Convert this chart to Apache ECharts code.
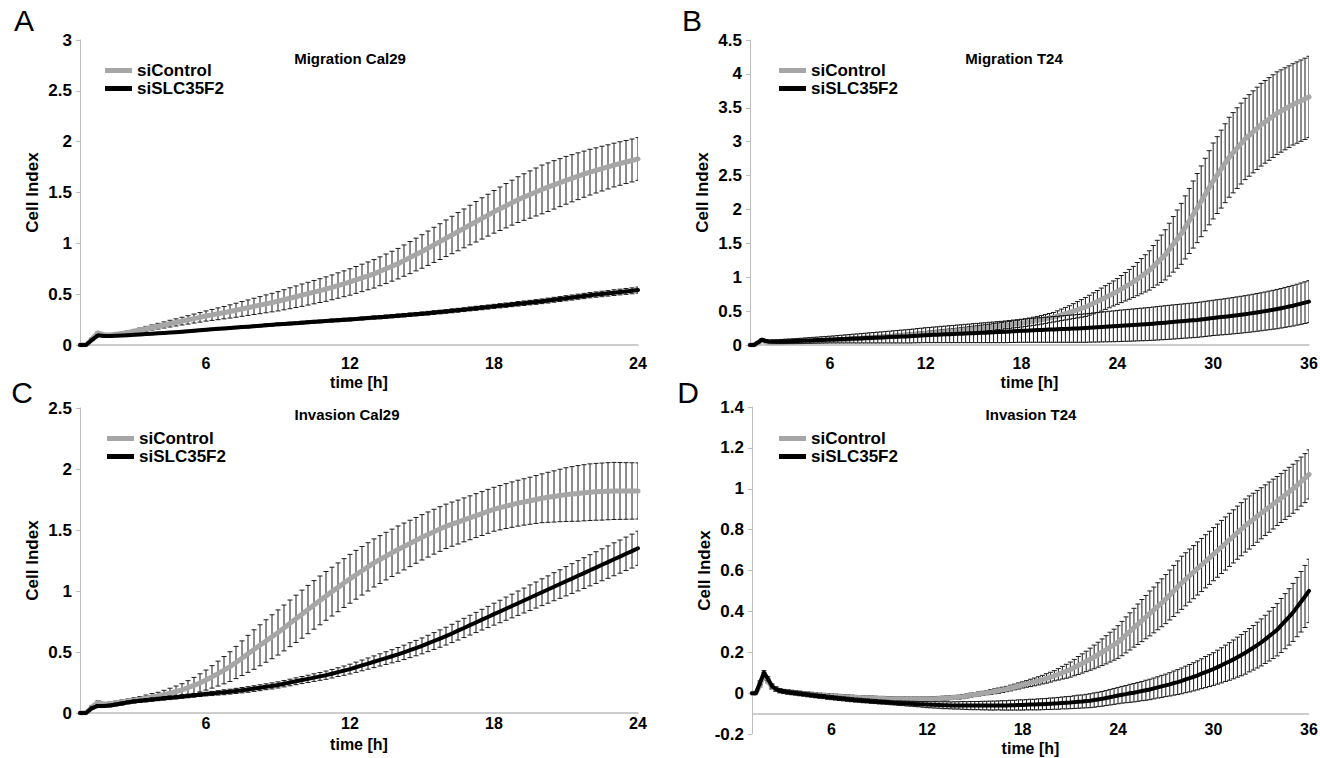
<!DOCTYPE html>
<html><head><meta charset="utf-8">
<script src="https://cdn.jsdelivr.net/npm/echarts@6/dist/echarts.min.js"></script>
<style>html,body{margin:0;padding:0;background:#fff}#c{width:1320px;height:758px}</style>
</head><body><div id="c"></div><script>
// sampling: one reading every 0.25 h
const timeStartAC = 0.75, timeStartBD = 1, timeStep = 0.25;
const xTicksAC = [6, 12, 18, 24];
const xTicksBD = [6, 12, 18, 24, 30, 36];
const seriesNames = ['siControl', 'siSLC35F2'];

// ---- A: Migration Cal29 ----
const A_ctrl = [0,0,0.06,0.12,0.10,
0.098,0.105,0.113,0.124, 0.135,0.147,0.16,0.172, 0.185,0.197,0.21,0.222, 0.235,0.247,0.26,0.272,
0.285,0.296,0.307,0.318, 0.33,0.342,0.355,0.367, 0.38,0.392,0.405,0.417, 0.43,0.445,0.46,0.475,
0.49,0.505,0.52,0.535, 0.55,0.567,0.585,0.602, 0.62,0.64,0.66,0.68, 0.70,0.725,0.75,0.775,
0.80,0.83,0.86,0.89, 0.92,0.952,0.985,1.017, 1.05,1.082,1.115,1.147, 1.18,1.212,1.245,1.277,
1.31,1.34,1.37,1.40, 1.43,1.455,1.48,1.505, 1.53,1.552,1.575,1.597, 1.62,1.64,1.66,1.68,
1.70,1.717,1.735,1.752, 1.77,1.785,1.80,1.815, 1.83];
const A_ctrlSd = [0,0,0.01,0.01,0.01,
0.01,0.012,0.014,0.016, 0.018,0.02,0.023,0.025, 0.028,0.03,0.033,0.035, 0.038,0.041,0.044,0.047,
0.05,0.054,0.058,0.061, 0.065,0.069,0.073,0.076, 0.08,0.084,0.088,0.091, 0.095,0.099,0.103,0.106,
0.11,0.112,0.115,0.117, 0.12,0.122,0.125,0.127, 0.13,0.132,0.135,0.137, 0.14,0.142,0.145,0.147,
0.15,0.154,0.158,0.161, 0.165,0.169,0.173,0.176, 0.18,0.184,0.188,0.191, 0.195,0.199,0.203,0.206,
0.21,0.214,0.218,0.221, 0.225,0.229,0.233,0.236, 0.24,0.239,0.238,0.236, 0.235,0.232,0.23,0.227,
0.225,0.222,0.22,0.217, 0.215,0.214,0.212,0.211, 0.21];
const A_si = [0,0,0.05,0.095,0.088,
0.088,0.091,0.094,0.097, 0.10,0.104,0.108,0.111, 0.115,0.119,0.123,0.126, 0.13,0.135,0.14,0.145,
0.15,0.154,0.159,0.163, 0.168,0.172,0.176,0.18, 0.185,0.189,0.194,0.198, 0.203,0.207,0.211,0.215,
0.22,0.224,0.228,0.232, 0.236,0.24,0.244,0.248, 0.252,0.256,0.261,0.265, 0.27,0.274,0.279,0.283,
0.288,0.293,0.298,0.303, 0.308,0.313,0.319,0.324, 0.33,0.336,0.342,0.348, 0.355,0.361,0.367,0.373,
0.38,0.386,0.392,0.398, 0.405,0.411,0.417,0.423, 0.43,0.437,0.445,0.452, 0.46,0.467,0.475,0.482,
0.49,0.496,0.502,0.508, 0.515,0.521,0.527,0.533, 0.54];
const A_siSd = [0,0,0.008,0.008,0.008,
0.008,0.008,0.008,0.008, 0.009,0.009,0.009,0.009, 0.009,0.009,0.009,0.009, 0.01,0.01,0.01,0.01,
0.01,0.01,0.011,0.011, 0.011,0.011,0.012,0.012, 0.012,0.012,0.013,0.013, 0.013,0.013,0.013,0.013,
0.014,0.014,0.014,0.014, 0.014,0.015,0.015,0.015, 0.015,0.015,0.015,0.015, 0.016,0.016,0.016,0.016,
0.017,0.017,0.017,0.017, 0.017,0.018,0.018,0.018, 0.018,0.019,0.019,0.019, 0.019,0.02,0.02,0.02,
0.02,0.021,0.021,0.021, 0.022,0.022,0.022,0.023, 0.023,0.024,0.024,0.024, 0.025,0.025,0.025,0.026,
0.026,0.026,0.027,0.027, 0.028,0.028,0.029,0.029, 0.03];

// ---- B: Migration T24 ----
const B_ctrl = [0,0,0.03,0.07,
0.045,0.035,0.033,0.033, 0.035,0.037,0.04,0.042, 0.045,0.047,0.05,0.052, 0.055,0.059,0.062,0.066,
0.07,0.074,0.078,0.081, 0.085,0.089,0.093,0.096, 0.10,0.104,0.108,0.111, 0.115,0.119,0.123,0.126,
0.13,0.135,0.14,0.145, 0.15,0.155,0.16,0.165, 0.17,0.175,0.18,0.185, 0.19,0.195,0.20,0.205,
0.21,0.216,0.223,0.229, 0.235,0.241,0.248,0.254, 0.26,0.267,0.275,0.282, 0.29,0.297,0.305,0.312,
0.32,0.33,0.34,0.35, 0.36,0.372,0.385,0.397, 0.41,0.427,0.445,0.462, 0.48,0.50,0.52,0.54,
0.56,0.587,0.615,0.642, 0.67,0.70,0.73,0.76, 0.79,0.825,0.86,0.895, 0.93,0.972,1.015,1.057,
1.10,1.157,1.215,1.272, 1.33,1.407,1.485,1.562, 1.64,1.735,1.83,1.925, 2.02,2.12,2.22,2.32,
2.42,2.507,2.595,2.682, 2.77,2.837,2.905,2.972, 3.04,3.092,3.145,3.197, 3.25,3.292,3.335,3.377,
3.42,3.452,3.485,3.517, 3.55,3.577,3.605,3.632, 3.66];
const B_ctrlSd = [0,0,0.01,0.01,
0.01,0.01,0.011,0.011, 0.012,0.012,0.013,0.013, 0.014,0.014,0.015,0.015, 0.016,0.016,0.017,0.017,
0.018,0.018,0.019,0.019, 0.02,0.02,0.021,0.021, 0.022,0.022,0.023,0.023, 0.024,0.024,0.025,0.025,
0.026,0.026,0.027,0.027, 0.028,0.028,0.029,0.029, 0.03,0.031,0.032,0.033, 0.034,0.035,0.036,0.037,
0.038,0.039,0.04,0.041, 0.042,0.043,0.044,0.045, 0.046,0.047,0.048,0.049, 0.05,0.051,0.052,0.053,
0.054,0.056,0.058,0.06, 0.062,0.064,0.066,0.068, 0.07,0.077,0.085,0.092, 0.10,0.11,0.12,0.13,
0.14,0.147,0.155,0.162, 0.17,0.175,0.18,0.185, 0.19,0.20,0.21,0.22, 0.23,0.245,0.26,0.275,
0.29,0.31,0.33,0.35, 0.37,0.39,0.41,0.43, 0.45,0.465,0.48,0.495, 0.51,0.522,0.535,0.547,
0.56,0.567,0.575,0.582, 0.59,0.592,0.595,0.597, 0.60,0.602,0.605,0.607, 0.61,0.61,0.61,0.61,
0.61,0.607,0.605,0.602, 0.60,0.60,0.60,0.60, 0.60];
const B_si = [0,0,0.04,0.08,
0.06,0.05,0.05,0.05, 0.052,0.054,0.056,0.058, 0.06,0.062,0.065,0.067, 0.07,0.072,0.075,0.077,
0.08,0.082,0.085,0.087, 0.09,0.092,0.095,0.097, 0.10,0.102,0.105,0.107, 0.11,0.112,0.115,0.117,
0.12,0.122,0.125,0.127, 0.13,0.134,0.138,0.141, 0.145,0.147,0.15,0.152, 0.155,0.157,0.16,0.162,
0.165,0.167,0.17,0.172, 0.175,0.177,0.18,0.182, 0.185,0.187,0.19,0.192, 0.195,0.199,0.203,0.206,
0.21,0.212,0.215,0.217, 0.22,0.222,0.225,0.227, 0.23,0.232,0.235,0.237, 0.24,0.242,0.245,0.247,
0.25,0.254,0.258,0.261, 0.265,0.269,0.273,0.276, 0.28,0.284,0.288,0.291, 0.295,0.299,0.303,0.306,
0.31,0.315,0.32,0.325, 0.33,0.335,0.34,0.345, 0.35,0.355,0.36,0.365, 0.37,0.377,0.385,0.392,
0.40,0.406,0.412,0.418, 0.425,0.432,0.44,0.447, 0.455,0.463,0.472,0.481, 0.49,0.50,0.51,0.52,
0.53,0.542,0.555,0.567, 0.58,0.595,0.61,0.625, 0.64];
const B_siSd = [0,0,0.01,0.015,
0.02,0.022,0.025,0.027, 0.03,0.032,0.033,0.035, 0.037,0.038,0.04,0.042, 0.043,0.045,0.047,0.048,
0.05,0.052,0.055,0.057, 0.06,0.062,0.065,0.067, 0.07,0.072,0.075,0.077, 0.08,0.082,0.085,0.087,
0.09,0.092,0.095,0.097, 0.10,0.102,0.105,0.107, 0.11,0.112,0.115,0.117, 0.12,0.122,0.125,0.127,
0.13,0.132,0.135,0.137, 0.14,0.142,0.145,0.147, 0.15,0.152,0.155,0.157, 0.16,0.162,0.165,0.167,
0.17,0.172,0.175,0.177, 0.18,0.182,0.185,0.187, 0.19,0.192,0.195,0.197, 0.20,0.202,0.205,0.207,
0.21,0.212,0.215,0.217, 0.22,0.222,0.225,0.227, 0.23,0.232,0.233,0.235, 0.237,0.238,0.24,0.242,
0.243,0.245,0.247,0.248, 0.25,0.251,0.252,0.253, 0.253,0.254,0.255,0.256, 0.257,0.258,0.259,0.26,
0.26,0.262,0.263,0.265, 0.267,0.268,0.27,0.272, 0.273,0.275,0.277,0.278, 0.28,0.282,0.285,0.287,
0.29,0.292,0.295,0.297, 0.30,0.302,0.305,0.307, 0.31];

// ---- C: Invasion Cal29 ----
const C_ctrl = [0,0,0.05,0.085,0.072,
0.075,0.082,0.09,0.097, 0.105,0.113,0.122,0.131, 0.14,0.151,0.163,0.176, 0.19,0.207,0.226,0.247,
0.27,0.296,0.323,0.351, 0.38,0.414,0.449,0.485, 0.52,0.555,0.59,0.625, 0.66,0.697,0.735,0.772,
0.81,0.848,0.886,0.923, 0.96,0.995,1.03,1.065, 1.10,1.133,1.166,1.198, 1.23,1.258,1.286,1.313,
1.34,1.365,1.39,1.415, 1.44,1.463,1.486,1.508, 1.53,1.548,1.565,1.583, 1.60,1.618,1.635,1.653,
1.67,1.683,1.696,1.708, 1.72,1.73,1.74,1.75, 1.76,1.768,1.775,1.783, 1.79,1.795,1.80,1.805,
1.81,1.813,1.815,1.818, 1.82,1.82,1.82,1.82, 1.82];
const C_ctrlSd = [0,0,0.01,0.015,0.015,
0.015,0.016,0.017,0.018, 0.02,0.022,0.025,0.028, 0.03,0.035,0.04,0.045, 0.05,0.058,0.066,0.074,
0.082,0.092,0.102,0.112, 0.122,0.132,0.142,0.152, 0.162,0.168,0.174,0.18, 0.185,0.188,0.191,0.194,
0.197,0.198,0.199,0.2, 0.2,0.2,0.2,0.2, 0.2,0.2,0.199,0.198, 0.197,0.196,0.195,0.194,
0.193,0.192,0.19,0.188, 0.186,0.185,0.184,0.183, 0.182,0.181,0.18,0.18, 0.18,0.18,0.18,0.18,
0.18,0.182,0.184,0.186, 0.188,0.19,0.193,0.196, 0.2,0.205,0.21,0.215, 0.22,0.224,0.228,0.23,
0.232,0.233,0.234,0.234, 0.234,0.233,0.232,0.231, 0.23];
const C_si = [0,0,0.04,0.058,0.058,
0.062,0.07,0.078,0.087, 0.095,0.1,0.105,0.11, 0.115,0.12,0.125,0.13, 0.135,0.14,0.145,0.15,
0.155,0.16,0.165,0.17, 0.175,0.181,0.187,0.193, 0.20,0.207,0.215,0.222, 0.23,0.24,0.25,0.26,
0.27,0.28,0.29,0.30, 0.31,0.322,0.335,0.347, 0.36,0.375,0.39,0.405, 0.42,0.435,0.45,0.465,
0.48,0.497,0.515,0.532, 0.55,0.57,0.59,0.61, 0.63,0.652,0.675,0.697, 0.72,0.742,0.765,0.787,
0.81,0.832,0.855,0.877, 0.90,0.922,0.945,0.967, 0.99,1.012,1.035,1.057, 1.08,1.102,1.125,1.147,
1.17,1.192,1.215,1.237, 1.26,1.282,1.305,1.327, 1.35];
const C_siSd = [0,0,0.01,0.012,0.012,
0.012,0.012,0.013,0.013, 0.013,0.013,0.014,0.014, 0.014,0.014,0.015,0.015, 0.015,0.015,0.015,0.015,
0.015,0.017,0.018,0.02, 0.02,0.021,0.022,0.023, 0.023,0.024,0.024,0.025, 0.025,0.026,0.027,0.028,
0.029,0.03,0.031,0.032, 0.034,0.035,0.036,0.038, 0.04,0.042,0.044,0.046, 0.048,0.05,0.052,0.054,
0.057,0.059,0.061,0.063, 0.065,0.067,0.069,0.071, 0.073,0.075,0.077,0.079, 0.081,0.083,0.085,0.087,
0.09,0.092,0.095,0.097, 0.1,0.102,0.105,0.107, 0.11,0.112,0.115,0.117, 0.12,0.122,0.124,0.126,
0.128,0.13,0.131,0.133, 0.135,0.136,0.137,0.139, 0.14];

// ---- D: Invasion T24 ----
const D_ctrl = [0,0,0.04,0.09,
0.06,0.03,0.02,0.012, 0.008,0.006,0.004,0.002, 0,-0.002,-0.004,-0.006, -0.008,-0.01,-0.011,-0.013,
-0.014,-0.015,-0.016,-0.018, -0.019,-0.02,-0.021,-0.022, -0.023,-0.024,-0.024,-0.025, -0.026,-0.026,-0.027,-0.027,
-0.028,-0.028,-0.028,-0.029, -0.029,-0.029,-0.029,-0.028, -0.028,-0.027,-0.027,-0.026, -0.025,-0.024,-0.022,-0.021,
-0.02,-0.017,-0.014,-0.01, -0.007,-0.004,-0.001,0.002, 0.005,0.009,0.012,0.016, 0.02,0.025,0.03,0.035,
0.04,0.045,0.05,0.055, 0.06,0.066,0.072,0.078, 0.085,0.092,0.1,0.107, 0.115,0.125,0.135,0.145,
0.155,0.166,0.177,0.188, 0.20,0.212,0.225,0.237, 0.25,0.267,0.285,0.302, 0.32,0.337,0.355,0.372,
0.39,0.407,0.425,0.442, 0.46,0.48,0.50,0.52, 0.54,0.557,0.575,0.592, 0.61,0.627,0.645,0.662,
0.68,0.697,0.715,0.732, 0.75,0.767,0.785,0.802, 0.82,0.835,0.85,0.865, 0.88,0.895,0.91,0.925,
0.94,0.955,0.97,0.985, 1.0,1.017,1.035,1.052, 1.07];
const D_ctrlSd = [0,0,0.01,0.01,
0.01,0.01,0.01,0.01, 0.01,0.01,0.01,0.01, 0.01,0.01,0.01,0.01, 0.01,0.01,0.01,0.01,
0.01,0.01,0.01,0.01, 0.01,0.01,0.01,0.01, 0.01,0.01,0.01,0.01, 0.01,0.01,0.01,0.01,
0.01,0.01,0.01,0.01, 0.01,0.01,0.01,0.01, 0.01,0.01,0.01,0.01, 0.01,0.01,0.01,0.01,
0.01,0.01,0.01,0.01, 0.01,0.01,0.01,0.01, 0.012,0.012,0.013,0.013, 0.013,0.014,0.014,0.015,
0.015,0.016,0.018,0.019, 0.02,0.021,0.023,0.024, 0.025,0.028,0.031,0.034, 0.037,0.04,0.044,0.047,
0.05,0.054,0.058,0.061, 0.065,0.069,0.073,0.076, 0.08,0.084,0.088,0.091, 0.095,0.099,0.103,0.106,
0.11,0.112,0.115,0.117, 0.12,0.122,0.125,0.127, 0.13,0.13,0.13,0.13, 0.13,0.13,0.13,0.13,
0.13,0.13,0.13,0.13, 0.13,0.13,0.13,0.13, 0.13,0.13,0.128,0.127, 0.125,0.124,0.123,0.122,
0.12,0.12,0.12,0.12, 0.12,0.12,0.12,0.12, 0.12];
const D_si = [0,0,0.05,0.10,
0.07,0.035,0.02,0.012, 0.008,0.005,0.002,0, -0.003,-0.005,-0.008,-0.01, -0.013,-0.015,-0.017,-0.02,
-0.022,-0.024,-0.026,-0.028, -0.03,-0.032,-0.034,-0.035, -0.037,-0.038,-0.04,-0.041, -0.043,-0.044,-0.045,-0.047,
-0.048,-0.049,-0.05,-0.051, -0.052,-0.053,-0.054,-0.055, -0.056,-0.057,-0.057,-0.058, -0.059,-0.059,-0.06,-0.06,
-0.06,-0.06,-0.061,-0.061, -0.061,-0.061,-0.061,-0.061, -0.061,-0.061,-0.06,-0.06, -0.06,-0.059,-0.059,-0.058,
-0.058,-0.057,-0.056,-0.056, -0.055,-0.054,-0.053,-0.052, -0.051,-0.05,-0.048,-0.047, -0.046,-0.044,-0.042,-0.041,
-0.039,-0.037,-0.034,-0.031, -0.028,-0.024,-0.02,-0.016, -0.012,-0.008,-0.005,-0.001, 0.002,0.006,0.01,0.014,
0.018,0.023,0.028,0.033, 0.038,0.043,0.049,0.054, 0.06,0.067,0.073,0.08, 0.087,0.095,0.103,0.11,
0.118,0.127,0.136,0.146, 0.155,0.165,0.176,0.186, 0.197,0.21,0.222,0.235, 0.248,0.263,0.279,0.294,
0.31,0.331,0.352,0.373, 0.395,0.421,0.447,0.473, 0.50];
const D_siSd = [0,0,0.01,0.01,
0.01,0.01,0.01,0.01, 0.01,0.01,0.01,0.01, 0.01,0.01,0.01,0.01, 0.01,0.01,0.01,0.01,
0.01,0.01,0.01,0.01, 0.01,0.01,0.01,0.01, 0.01,0.01,0.01,0.01, 0.01,0.01,0.01,0.01,
0.01,0.011,0.011,0.012, 0.012,0.013,0.013,0.014, 0.015,0.015,0.016,0.016, 0.017,0.017,0.017,0.018,
0.018,0.019,0.019,0.02, 0.02,0.02,0.021,0.021, 0.022,0.022,0.022,0.023, 0.023,0.024,0.024,0.025,
0.025,0.025,0.026,0.026, 0.027,0.027,0.027,0.028, 0.028,0.029,0.029,0.03, 0.03,0.031,0.032,0.032,
0.033,0.034,0.035,0.035, 0.036,0.037,0.038,0.039, 0.04,0.041,0.042,0.044, 0.045,0.046,0.047,0.049,
0.05,0.051,0.052,0.054, 0.055,0.057,0.059,0.061, 0.063,0.065,0.067,0.069, 0.071,0.073,0.076,0.078,
0.08,0.083,0.086,0.089, 0.092,0.095,0.098,0.101, 0.104,0.106,0.109,0.112, 0.115,0.118,0.122,0.125,
0.128,0.132,0.135,0.138, 0.142,0.145,0.148,0.152, 0.155];

// ---------------- drawing ----------------
const F = "'Liberation Sans', Arial, sans-serif";
const GRAY = '#a6a6a6', BLACK = '#000000', AXIS = '#bdbdbd';

const panels = [
  {letter:'A', title:'Migration Cal29', grid:{left:80, top:40, width:558, height:305}, xMin:0.75, xMax:24, yMin:0, yMax:3, yInt:0.5,
   start:timeStartAC, ticks:xTicksAC, ctrl:A_ctrl, ctrlSd:A_ctrlSd, si:A_si, siSd:A_siSd,
   labelMargin:10, nameGap:29, xLine:true, floor:null, leg:[105,62], tpos:[350,58], lpos:[24,20]},
  {letter:'B', title:'Migration T24', grid:{left:750, top:40, width:559, height:305}, xMin:1, xMax:36, yMin:0, yMax:4.5, yInt:0.5,
   start:timeStartBD, ticks:xTicksBD, ctrl:B_ctrl, ctrlSd:B_ctrlSd, si:B_si, siSd:B_siSd,
   labelMargin:10, nameGap:29, xLine:true, floor:null, leg:[779,62], tpos:[1014,58], lpos:[692,20]},
  {letter:'C', title:'Invasion Cal29', grid:{left:80, top:408, width:558, height:305}, xMin:0.75, xMax:24, yMin:0, yMax:2.5, yInt:0.5,
   start:timeStartAC, ticks:xTicksAC, ctrl:C_ctrl, ctrlSd:C_ctrlSd, si:C_si, siSd:C_siSd,
   labelMargin:2, nameGap:23, xLine:true, floor:null, leg:[107,430], tpos:[347,414], lpos:[22,392]},
  {letter:'D', title:'Invasion T24', grid:{left:752, top:407, width:557, height:327}, xMin:1, xMax:36, yMin:-0.2, yMax:1.4, yInt:0.2,
   start:timeStartBD, ticks:xTicksBD, ctrl:D_ctrl, ctrlSd:D_ctrlSd, si:D_si, siSd:D_siSd,
   labelMargin:-13, nameGap:6, xLine:false, floor:-0.1, leg:[779,430], tpos:[1031,414], lpos:[688,392]}
];

function linePts(start, mean) { return mean.map((v, i) => [start + i * timeStep, v]); }
function errPts(start, mean, sd) { return mean.map((v, i) => [start + i * timeStep, v, sd[i]]); }

function renderErr(params, api) {
  const x = api.value(0), m = api.value(1), s = api.value(2);
  if (!s) return null;
  const t = api.coord([x, m + s]), b = api.coord([x, m - s]);
  const w = 2.5, st = {stroke: '#1a1a1a', lineWidth: 1};
  return {type: 'group', children: [
    {type: 'line', shape: {x1: t[0], y1: t[1], x2: b[0], y2: b[1]}, style: st},
    {type: 'line', shape: {x1: t[0] - w, y1: t[1], x2: t[0] + w, y2: t[1]}, style: st},
    {type: 'line', shape: {x1: b[0] - w, y1: b[1], x2: b[0] + w, y2: b[1]}, style: st}
  ]};
}

const boldText = (size) => ({fontFamily: F, fontWeight: 'bold', fontSize: size, color: '#000'});

const option = {
  animation: false,
  backgroundColor: '#fff',
  grid: panels.map(p => Object.assign({containLabel: false, outerBoundsMode: 'none'}, p.grid)),
  xAxis: panels.map((p, i) => ({
    gridIndex: i, type: 'value', min: p.xMin, max: p.xMax,
    name: 'time [h]', nameLocation: 'middle', nameGap: p.nameGap, nameMoveOverlap: false,
    nameTextStyle: boldText(16),
    axisLine: {show: p.xLine, onZero: false, lineStyle: {color: AXIS, width: 1.5}},
    axisTick: {show: false}, splitLine: {show: false},
    axisLabel: Object.assign({customValues: p.ticks, margin: p.labelMargin}, boldText(16))
  })),
  yAxis: panels.map((p, i) => ({
    gridIndex: i, type: 'value', min: p.yMin, max: p.yMax, interval: p.yInt,
    name: 'Cell Index', nameLocation: 'middle', nameGap: 39, nameMoveOverlap: false,
    nameTextStyle: boldText(17),
    axisLine: {show: true, lineStyle: {color: AXIS, width: 1}},
    axisTick: {show: true, length: 4, lineStyle: {color: AXIS}},
    splitLine: {show: false},
    axisLabel: Object.assign({margin: 8}, boldText(17))
  })),
  legend: panels.map(p => ({
    left: p.leg[0], top: p.leg[1], orient: 'vertical', padding: 0, itemGap: 1,
    itemWidth: 27, itemHeight: 5, icon: 'rect', selectedMode: false,
    data: seriesNames,
    textStyle: Object.assign({lineHeight: 17}, boldText(17))
  })),
  graphic: panels.flatMap(p => [
    {type: 'text', x: p.tpos[0], y: p.tpos[1], silent: true,
     style: {text: p.title, fontFamily: F, fontWeight: 'bold', fontSize: 15, fill: '#000', align: 'center', verticalAlign: 'middle', textAlign: 'center', textVerticalAlign: 'middle'}},
    {type: 'text', x: p.lpos[0], y: p.lpos[1], silent: true,
     style: {text: p.letter, fontFamily: F, fontWeight: 'normal', fontSize: 30, fill: '#000', align: 'center', verticalAlign: 'middle', textAlign: 'center', textVerticalAlign: 'middle'}}
  ]),
  series: panels.flatMap((p, i) => {
    const ctrlLine = {
      type: 'line', name: seriesNames[0], xAxisIndex: i, yAxisIndex: i, data: linePts(p.start, p.ctrl),
      showSymbol: false, symbol: 'none', silent: true, z: 2,
      lineStyle: {color: GRAY, width: 5, cap: 'round', join: 'round'}, itemStyle: {color: GRAY}
    };
    if (p.floor !== null) {
      ctrlLine.markLine = {silent: true, symbol: ['none', 'none'], label: {show: false}, animation: false,
        lineStyle: {color: AXIS, width: 1.5, type: 'solid'}, data: [{yAxis: p.floor}]};
    }
    return [
      {type: 'custom', name: 'ctrlErr' + i, xAxisIndex: i, yAxisIndex: i, data: errPts(p.start, p.ctrl, p.ctrlSd),
       renderItem: renderErr, encode: {x: 0, y: 1}, silent: true, clip: true, z: 1},
      ctrlLine,
      {type: 'custom', name: 'siErr' + i, xAxisIndex: i, yAxisIndex: i, data: errPts(p.start, p.si, p.siSd),
       renderItem: renderErr, encode: {x: 0, y: 1}, silent: true, clip: true, z: 3},
      {type: 'line', name: seriesNames[1], xAxisIndex: i, yAxisIndex: i, data: linePts(p.start, p.si),
       showSymbol: false, symbol: 'none', silent: true, z: 4,
       lineStyle: {color: BLACK, width: 4, cap: 'round', join: 'round'}, itemStyle: {color: BLACK}}
    ];
  })
};

const chart = echarts.init(document.getElementById('c'), null, {renderer: 'svg'});
chart.setOption(option);
</script></body></html>
